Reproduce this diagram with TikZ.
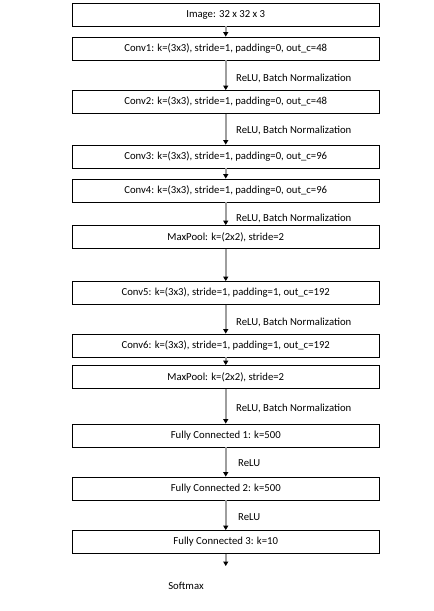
\documentclass[tikz,border=0pt]{standalone}
\usepackage{fontspec}
\setmainfont{Carlito}
\usetikzlibrary{arrows.meta}
\tikzset{
  layer/.style={draw=black, line width=0.8pt, minimum width=306.5pt, minimum height=23pt, inner sep=0pt, font=\fontsize{10.7}{12}\selectfont, text=black},
  flow/.style={draw=black!38, line width=1.6pt, -{Triangle[length=4.5pt,width=5pt,color=black]}},
  lbl/.style={font=\fontsize{10.7}{12}\selectfont, text=black, anchor=west, inner sep=0pt}
}
\begin{document}
\begin{tikzpicture}[x=1pt,y=-1pt]
\useasboundingbox (0,0) rectangle (434,611);
\fill[white] (0,0) rectangle (434,611);
\def\cx{225.75}
\node[layer] (img) at (\cx,14.5) {Image: 32 x 32 x 3};
\node[layer] (c1) at (\cx,48.5) {Conv1: k=(3x3), stride=1, padding=0, out\_c=48};
\node[layer] (c2) at (\cx,102) {Conv2: k=(3x3), stride=1, padding=0, out\_c=48};
\node[layer] (c3) at (\cx,156.5) {Conv3: k=(3x3), stride=1, padding=0, out\_c=96};
\node[layer] (c4) at (\cx,190.5) {Conv4: k=(3x3), stride=1, padding=0, out\_c=96};
\node[layer] (mp1) at (\cx,237) {MaxPool: k=(2x2), stride=2};
\node[layer] (c5) at (\cx,293) {Conv5: k=(3x3), stride=1, padding=1, out\_c=192};
\node[layer] (c6) at (\cx,345.5) {Conv6: k=(3x3), stride=1, padding=1, out\_c=192};
\node[layer] (mp2) at (\cx,377) {MaxPool: k=(2x2), stride=2};
\node[layer] (fc1) at (\cx,435.5) {Fully Connected 1: k=500};
\node[layer] (fc2) at (\cx,488.5) {Fully Connected 2: k=500};
\node[layer] (fc3) at (\cx,542) {Fully Connected 3: k=10};
\coordinate (out) at (\cx,566);
\draw[flow] (img) -- (c1);
\draw[flow] (c1) -- (c2);
\draw[flow] (c2) -- (c3);
\draw[flow] (c3) -- (c4);
\draw[flow] (c4) -- (mp1);
\draw[flow] (mp1) -- (c5);
\draw[flow] (c5) -- (c6);
\draw[flow] (c6) -- (mp2);
\draw[flow] (mp2) -- (fc1);
\draw[flow] (fc1) -- (fc2);
\draw[flow] (fc2) -- (fc3);
\draw[flow] (fc3) -- (out);
\node[lbl] (l1) at (236,78) {ReLU, Batch Normalization};
\node[lbl] (l2) at (236,130) {ReLU, Batch Normalization};
\node[lbl] (l3) at (236,218) {ReLU, Batch Normalization};
\node[lbl] (l4) at (236,322) {ReLU, Batch Normalization};
\node[lbl] (l5) at (236,408) {ReLU, Batch Normalization};
\node[lbl] (l6) at (238,463) {ReLU};
\node[lbl] (l7) at (238,517) {ReLU};
\node[lbl, anchor=center] (sm) at (186,586) {Softmax};
\end{tikzpicture}
\end{document}
